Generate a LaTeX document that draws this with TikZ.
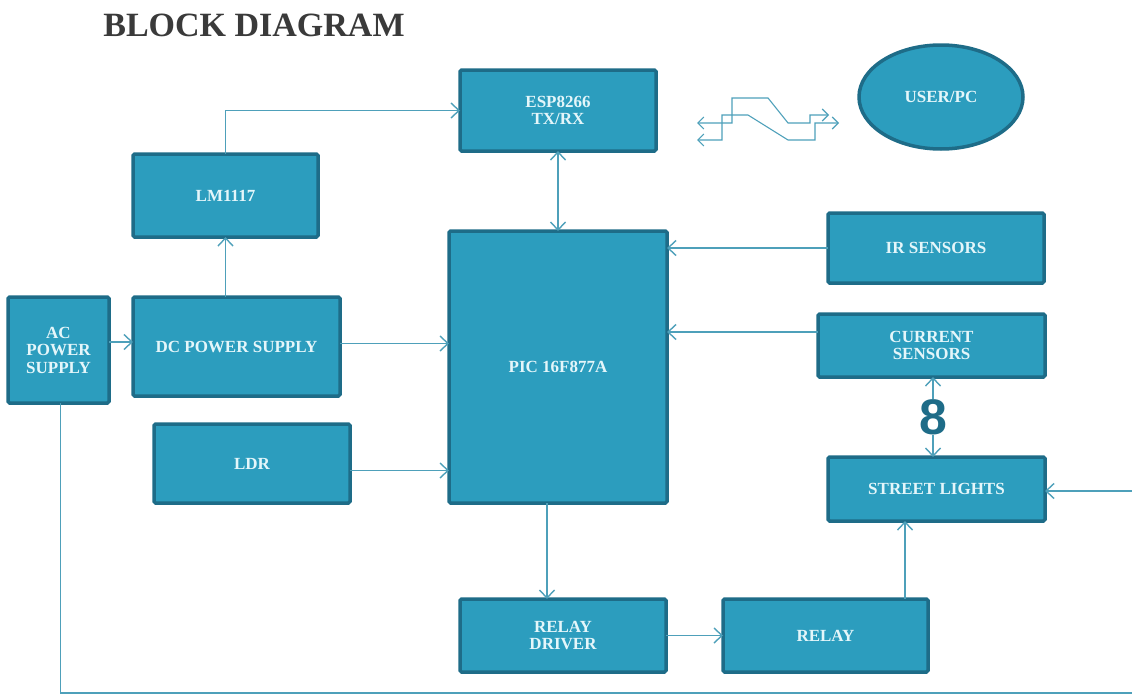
\documentclass[tikz,border=0pt]{standalone}
\usepackage{fontspec}
\setmainfont{Liberation Serif}
\newfontfamily\eightfont{Liberation Sans}
\usetikzlibrary{arrows.meta,calc,shapes.geometric}
\definecolor{boxfill}{RGB}{44,157,190}
\definecolor{boxedge}{RGB}{30,108,136}
\definecolor{boxtext}{RGB}{228,246,250}
\definecolor{wire}{RGB}{78,160,186}
\definecolor{titlegray}{RGB}{58,58,58}
\begin{document}
\begin{tikzpicture}[x=1pt,y=-1pt,
  blk/.style={draw=boxedge, fill=boxfill, line width=3.5pt, rounded corners=1.5pt,
    text=boxtext, font=\bfseries\fontsize{17}{17.5}\selectfont, align=center,
    inner sep=0pt, outer sep=0pt},
  tip/.tip={Straight Barb[length=8pt,width=15pt,line width=1.4pt]},
  conn/.style={draw=wire, line width=1.3pt, -tip},
  biconn/.style={draw=wire, line width=1.3pt, tip-tip},
  plain/.style={draw=wire, line width=1.3pt},
  radio/.style={draw=wire, line width=1.1pt, {Straight Barb[length=6pt,width=12pt]}-{Straight Barb[length=6pt,width=12pt]}},
  eightlbl/.style={fill=white, inner sep=0.5pt, text=boxedge, font=\eightfont\bfseries\fontsize{50}{50}\selectfont}]
\useasboundingbox (0,0) rectangle (1132,696);
\fill[white] (0,0) rectangle (1132,696);

% title
\node[text=titlegray, font=\bfseries\fontsize{34}{36}\selectfont] (title) at (254,25) {BLOCK DIAGRAM};

% blocks
\node[blk, minimum width=196pt, minimum height=81pt] (esp) at (558,110.5) {ESP8266\\TX/RX};
\node[blk, minimum width=185pt, minimum height=83pt] (lm) at (225.5,195.5) {LM1117};
\node[blk, minimum width=101pt, minimum height=106pt] (ac) at (58.5,350) {AC\\POWER\\SUPPLY};
\node[blk, minimum width=207pt, minimum height=99pt] (dc) at (236.5,346.5) {DC POWER SUPPLY};
\node[blk, minimum width=196pt, minimum height=79pt] (ldr) at (252,463.5) {LDR};
\node[blk, minimum width=218pt, minimum height=272pt] (pic) at (558,367) {PIC 16F877A};
\node[blk, minimum width=216pt, minimum height=70pt] (ir) at (936,248) {IR SENSORS};
\node[blk, minimum width=227pt, minimum height=63pt] (cur) at (931.5,345.5) {CURRENT\\SENSORS};
\node[blk, minimum width=217pt, minimum height=64pt] (st) at (936.5,489) {STREET LIGHTS};
\node[blk, minimum width=206pt, minimum height=73pt] (rd) at (563,635.5) {RELAY\\DRIVER};
\node[blk, minimum width=205pt, minimum height=73pt] (relay) at (825.5,635.5) {RELAY};
\node[blk, ellipse, minimum width=164pt, minimum height=104pt] (user) at (941,97) {USER/PC};

% connectors
\draw[conn] (lm.north) |- (esp.west);
\draw[conn] (lm.south |- dc.north) -- (lm.south);
\draw[conn] ([yshift=8pt]ac.east) -- ([yshift=8pt]ac.east -| dc.west);
\draw[conn] ([yshift=3pt]dc.east) -- ([yshift=3pt]dc.east -| pic.west);
\draw[conn] ([yshift=-7pt]ldr.east) -- ([yshift=-7pt]ldr.east -| pic.west);
\draw[conn] (ir.west) -- (ir.west -| pic.east);
\draw[conn] ([yshift=13.5pt]cur.west) -- ([yshift=13.5pt]cur.west -| pic.east);
\draw[biconn] (esp.south) -- (esp.south |- pic.north);
\draw[biconn] ([xshift=1.5pt]cur.south) -- ([xshift=1.5pt]cur.south |- st.north)
  node[midway, eightlbl] (eight) {8};
\draw[conn] ([xshift=-11pt]pic.south) -- ([xshift=-11pt]pic.south |- rd.north);
\draw[conn] (rd.east) -- (relay.west);
\draw[conn] ([xshift=79.5pt]relay.north) -- ([xshift=79.5pt]relay.north |- st.south);
\coordinate (rin) at (1132,491);
\draw[conn] (rin) -- (rin -| st.east);
\coordinate (bot) at (1132,693);
\draw[plain] ([xshift=2pt]ac.south) |- (bot);

% wireless symbol
\draw[radio] (697,123) -- (732,123) -- (732,98) -- (768,98) -- (788,123) -- (810,123) -- (810,115) -- (829,115);
\draw[radio] (697,140) -- (722,140) -- (722,115) -- (748,115) -- (788,140) -- (815,140) -- (815,123) -- (839,123);
\end{tikzpicture}
\end{document}
